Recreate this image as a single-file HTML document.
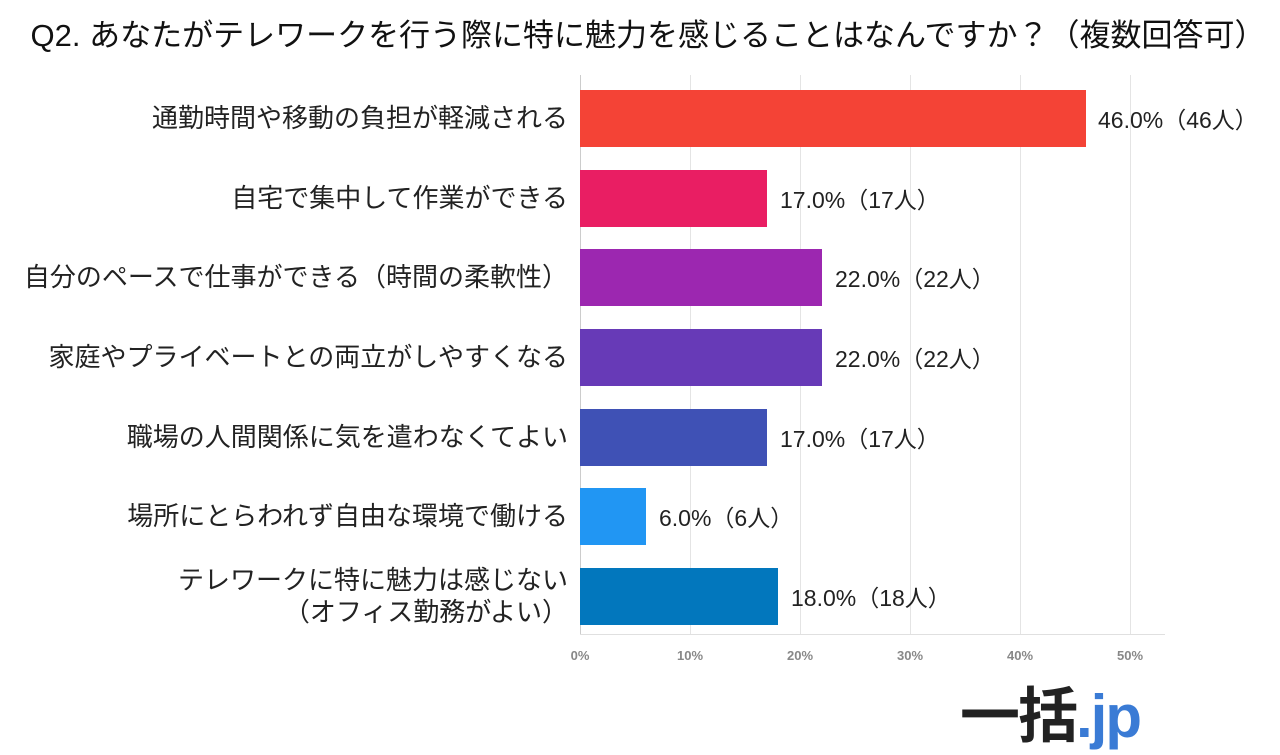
<!DOCTYPE html>
<html><head><meta charset="utf-8"><style>
body{margin:0;background:#fff;width:1280px;height:748px;overflow:hidden;position:relative;font-family:"Liberation Sans","Noto Sans CJK JP",sans-serif;color:#222}
.t{position:absolute;white-space:nowrap}
.title{left:0;width:1296px;text-align:center;top:10px;font-size:31px;color:#111}
.lab{right:712px;font-size:26px;text-align:right;line-height:32px}
.bar{position:absolute;left:580px;height:57px}
.val{font-size:23px}
.grid{position:absolute;top:75px;height:560px;width:1px;background:#e4e4e4}
.tick{position:absolute;top:648px;font-size:13px;color:#888;font-weight:bold;transform:translateX(-50%)}
</style></head><body>
<div class="t title">Q2. あなたがテレワークを行う際に特に魅力を感じることはなんですか？（複数回答可）</div>
<div class="grid" style="left:690px"></div><div class="grid" style="left:800px"></div><div class="grid" style="left:910px"></div><div class="grid" style="left:1020px"></div><div class="grid" style="left:1130px"></div>
<div style="position:absolute;left:580px;top:75px;width:1px;height:560px;background:#ccc"></div>
<div style="position:absolute;left:580px;top:634px;width:585px;height:1px;background:#e0e0e0"></div>

<div class="bar" style="top:90px;width:506px;background:#F44336"></div>
<div class="bar" style="top:170px;width:187px;background:#E91E63"></div>
<div class="bar" style="top:249px;width:242px;background:#9C27B0"></div>
<div class="bar" style="top:329px;width:242px;background:#673AB7"></div>
<div class="bar" style="top:409px;width:187px;background:#3F51B5"></div>
<div class="bar" style="top:488px;width:66px;background:#2196F3"></div>
<div class="bar" style="top:568px;width:198px;background:#0277BD"></div>

<div class="t lab" style="top:102px">通勤時間や移動の負担が軽減される</div>
<div class="t lab" style="top:182px">自宅で集中して作業ができる</div>
<div class="t lab" style="top:261px">自分のペースで仕事ができる（時間の柔軟性）</div>
<div class="t lab" style="top:341px">家庭やプライベートとの両立がしやすくなる</div>
<div class="t lab" style="top:421px">職場の人間関係に気を遣わなくてよい</div>
<div class="t lab" style="top:500px">場所にとらわれず自由な環境で働ける</div>
<div class="t lab" style="top:564px">テレワークに特に魅力は感じない<br>（オフィス勤務がよい）</div>

<div class="t val" style="left:1098px;top:101px">46.0%（46人）</div>
<div class="t val" style="left:780px;top:181px">17.0%（17人）</div>
<div class="t val" style="left:835px;top:260px">22.0%（22人）</div>
<div class="t val" style="left:835px;top:340px">22.0%（22人）</div>
<div class="t val" style="left:780px;top:420px">17.0%（17人）</div>
<div class="t val" style="left:659px;top:499px">6.0%（6人）</div>
<div class="t val" style="left:791px;top:579px">18.0%（18人）</div>

<div class="tick" style="left:580px">0%</div><div class="tick" style="left:690px">10%</div><div class="tick" style="left:800px">20%</div><div class="tick" style="left:910px">30%</div><div class="tick" style="left:1020px">40%</div><div class="tick" style="left:1130px">50%</div>

<div class="t" style="left:960px;top:668px;font-size:60px;font-weight:bold;color:#222;letter-spacing:-2px">一括<span style="color:#3a7bd5">.jp</span></div>
</body></html>
